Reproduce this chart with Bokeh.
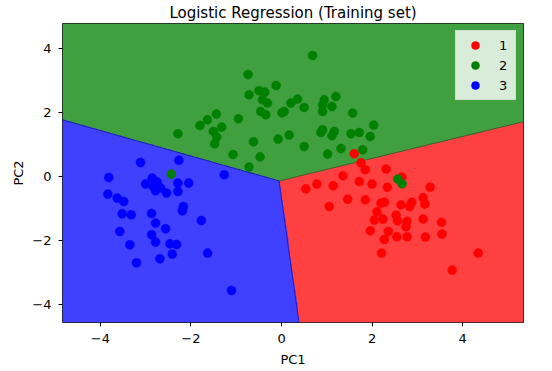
import numpy as np
from bokeh.plotting import figure
from bokeh.models import Range1d, FixedTicker, CustomJSTickFormatter
from bokeh.embed import file_html
from bokeh.resources import INLINE

# ---------------- data ----------------
class_labels = ["1", "2", "3"]

pc1_class1 = [1.606, 1.754, 1.850, 2.308, 1.356, 1.717, 1.998, 2.336, 0.538, 0.781,
              1.142, 2.655, 3.281, 1.460, 1.850, 1.053, 2.197, 2.274, 2.639, 2.876,
              2.827, 3.126, 3.164, 2.108, 2.049, 2.241, 2.529, 2.562, 2.772, 2.750,
              3.126, 3.531, 3.542, 1.960, 2.358, 2.270, 2.546, 2.772, 3.177, 2.208,
              4.343, 3.768]
pc2_class1 = [0.697, 0.416, 0.197, 0.219, 0.009, -0.169, -0.250, -0.350, -0.397, -0.250,
              -0.303, -0.038, -0.350, -0.725, -0.741, -0.950, -0.844, -0.819, -0.897, -0.819,
              -0.950, -0.672, -0.872, -1.116, -1.375, -1.344, -1.225, -1.397, -1.419, -1.584,
              -1.341, -1.444, -1.809, -1.709, -1.731, -1.981, -1.897, -1.897, -1.906, -2.406,
              -2.406, -2.938]

pc1_class2 = [-0.739, -0.119, -0.717, -0.496, -0.369, -0.420, -0.310, -0.458, -0.347, -1.438,
              -1.637, -1.801, -0.951, -1.321, -1.504, -1.431, -1.476, -2.288, -0.619, -0.075,
              -1.071, -0.473, -0.717, -2.434, 0.686, 0.354, 0.206, 0.058, 0.007, 0.500,
              0.942, 1.201, 0.907, 1.113, 0.907, 1.571, 2.035, 0.907, 0.869, 1.164,
              1.113, 1.533, 1.717, 1.960, 0.168, 0.500, 1.312, 1.792, 1.018, 2.566,
              2.662]
pc2_class2 = [3.175, 2.831, 2.541, 2.666, 2.625, 2.384, 2.281, 2.019, 1.916, 1.938,
              1.759, 1.581, 1.791, 1.531, 1.394, 1.219, 1.009, 1.322, 1.072, 1.156,
              0.675, 0.603, 0.281, 0.063, 3.769, 2.406, 2.281, 2.019, 1.978, 2.144,
              2.384, 2.488, 2.228, 2.175, 2.019, 1.969, 1.594, 1.447, 1.363, 1.394,
              1.259, 1.322, 1.363, 1.238, 1.281, 0.925, 0.863, 0.822, 0.688, -0.094,
              -0.241]

pc1_class3 = [-3.113, -2.265, -1.265, -3.814, -2.854, -3.002, -2.743, -2.832, -2.670, -2.781,
              -2.538, -2.288, -2.051, -2.288, -3.836, -3.628, -3.482, -2.168, -2.190, -3.518,
              -3.319, -2.869, -2.781, -2.560, -1.770, -3.571, -2.869, -2.781, -2.465, -2.316,
              -2.412, -3.350, -2.686, -3.201, -1.631, -1.106]
pc2_class3 = [0.425, 0.494, 0.041, -0.044, -0.063, -0.250, -0.188, -0.325, -0.375, -0.459,
              -0.531, -0.219, -0.219, -0.481, -0.563, -0.688, -0.794, -0.950, -1.084, -1.178,
              -1.209, -1.169, -1.469, -1.647, -1.388, -1.731, -1.834, -2.063, -2.116, -2.138,
              -2.438, -2.147, -2.584, -2.709, -2.406, -3.575]

# fitted logistic-regression weights (per class: PC1, PC2) and intercepts
coef = [[1.12, -0.92],
        [0.09, 2.08],
        [-1.20, -1.15]]
intercept = [-0.08, 0.32, -0.24]

x_ticks = [-4, -2, 0, 2, 4]
y_ticks = [-4, -2, 0, 2, 4]

# ---------------- styles ----------------
point_colors = ["#ff0000", "#008000", "#0000ff"]
region_rgb = [(255, 64, 64), (64, 160, 64), (64, 64, 255)]
edge_colors = {(1, 2): "#1515b5", (0, 1): "#3a5a2a", (0, 2): "#1515c8"}
FONT = "DejaVu Sans"

xs_all = [pc1_class1, pc1_class2, pc1_class3]
ys_all = [pc2_class1, pc2_class2, pc2_class3]

all_x = np.concatenate([np.asarray(a) for a in xs_all])
all_y = np.concatenate([np.asarray(a) for a in ys_all])
x_min, x_max = all_x.min() - 1, all_x.max() + 1
y_min, y_max = all_y.min() - 1, all_y.max() + 1

p = figure(width=545, height=370, output_backend="svg", toolbar_location=None,
           x_range=Range1d(x_min, x_max), y_range=Range1d(y_min, y_max),
           min_border_left=62, min_border_right=22, min_border_bottom=48, min_border_top=0,
           title="Logistic Regression (Training set)")
p.background_fill_color = "white"
p.border_fill_color = "white"
p.grid.visible = False
p.outline_line_color = "#1a1a1a"
p.outline_line_width = 1

p.title.text_font = FONT
p.title.text_font_size = "15px"
p.title.text_font_style = "normal"
p.title.text_color = "#000000"
p.title.align = "center"
p.title.standoff = 3

# ---- decision regions (grid prediction) ----
W = np.array(coef)
b = np.array(intercept)
step = 0.02
gx = np.arange(x_min, x_max, step)
gy = np.arange(y_min, y_max, step)
X1, X2 = np.meshgrid(gx, gy)
scores = X1[..., None] * W[:, 0] + X2[..., None] * W[:, 1] + b
pred = scores.argmax(axis=-1)
rgba = np.zeros(pred.shape + (4,), dtype=np.uint8)
for k, c in enumerate(region_rgb):
    rgba[pred == k, 0] = c[0]
    rgba[pred == k, 1] = c[1]
    rgba[pred == k, 2] = c[2]
rgba[..., 3] = 255
img = rgba.view(np.uint32).reshape(pred.shape)
p.image_rgba(image=[img], x=x_min, y=y_min, dw=x_max - x_min, dh=y_max - y_min)

# ---- boundary edges from the model ----
A = np.array([W[0] - W[1], W[0] - W[2]])
rhs = np.array([b[1] - b[0], b[2] - b[0]])
t = np.linalg.solve(A, rhs)
for (i, j, k) in [(1, 2, 0), (0, 1, 2), (0, 2, 1)]:
    n = W[i] - W[j]
    d = np.array([-n[1], n[0]])
    g = W[k] - W[i]
    if g @ d > 0:
        d = -d
    end = t + d / np.linalg.norm(d) * 30
    p.line([t[0], end[0]], [t[1], end[1]], line_color=edge_colors[(i, j)],
           line_width=1, line_alpha=0.9)

# ---- points ----
for k in range(3):
    p.scatter(xs_all[k], ys_all[k], size=9, fill_color=point_colors[k],
              line_color=point_colors[k], line_width=0.5, legend_label=class_labels[k])

# ---- axes ----
fmt = CustomJSTickFormatter(code="return String(tick).replace('-', '\\u2212');")
for ax, ticks in ((p.xaxis, x_ticks), (p.yaxis, y_ticks)):
    ax.ticker = FixedTicker(ticks=ticks)
    ax.formatter = fmt
    ax.axis_line_color = None
    ax.major_tick_line_color = "#000000"
    ax.major_tick_out = 4
    ax.major_tick_in = 0
    ax.minor_tick_line_color = None
    ax.major_label_text_font = FONT
    ax.major_label_text_font_size = "13px"
    ax.major_label_text_color = "#000000"
    ax.major_label_standoff = 7
    ax.axis_label_text_font = FONT
    ax.axis_label_text_font_size = "13px"
    ax.axis_label_text_font_style = "normal"
    ax.axis_label_text_color = "#000000"
    ax.axis_label_standoff = 6
p.xaxis.axis_label = "PC1"
p.yaxis.axis_label = "PC2"
p.yaxis.axis_label_standoff = 3

# ---- legend ----
lg = p.legend[0]
lg.location = "top_right"
lg.margin = 7
lg.padding = 4
lg.spacing = 0
lg.glyph_width = 30
lg.glyph_height = 20
lg.label_height = 20
lg.label_width = 12
lg.label_standoff = 9
lg.label_text_font = FONT
lg.label_text_font_size = "13px"
lg.label_text_color = "#000000"
lg.background_fill_color = "white"
lg.background_fill_alpha = 0.8
lg.border_line_color = "#cccccc"
lg.border_line_width = 1

open("out.html", "w").write(file_html(p, INLINE))
